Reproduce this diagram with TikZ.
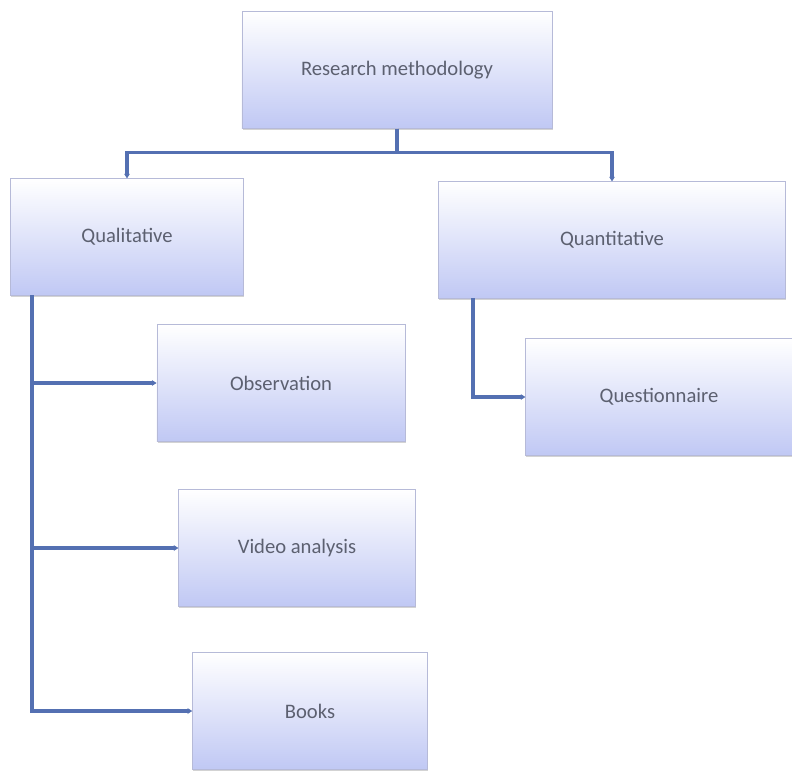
\documentclass[tikz,border=0pt]{standalone}
\usepackage{fontspec}
\setmainfont{Carlito}
\usetikzlibrary{arrows.meta,shadows}
\definecolor{linkblue}{RGB}{84,112,178}
\definecolor{boxedge}{RGB}{182,186,216}
\definecolor{boxlow}{RGB}{192,200,244}
\definecolor{boxtext}{RGB}{92,96,112}
\begin{document}
\begin{tikzpicture}[x=0.03cm, y=-0.03cm,
			font=\fontsize{17.6}{20}\selectfont, >={Stealth[length=4pt,width=5pt]},
			item/.style={rectangle, draw=boxedge, line width=0.5pt, top color=white, bottom color=boxlow,
				text=boxtext, minimum height=3.5cm, inner sep=0pt,
				drop shadow={shadow xshift=0.6pt, shadow yshift=-1.6pt, opacity=0.35}},
			link/.style={draw=linkblue, line width=3pt}]
		\useasboundingbox (0,0) rectangle (792,772);
		% top level and the two branches
		\node[item, minimum width=9.3cm]  (rm)    at (397,70)  {Research methodology};
		\node[item, minimum width=7cm]    (qual)  at (127,237) {Qualitative};
		\node[item, minimum width=10.4cm] (quan)  at (612,240) {Quantitative};
		% methods under each branch
		\node[item, minimum width=7.45cm] (obs)   at (281,383) {Observation};
		\node[item, minimum width=7.1cm]  (vid)   at (297,548) {Video analysis};
		\node[item, minimum width=7.05cm] (books) at (310,711) {Books};
		\node[item, minimum width=8cm]    (quest) at (659,397) {Questionnaire};
		% trunks hanging below the branch boxes
		\coordinate (qtrunk) at (32,295);
		\coordinate (ntrunk) at (473,298);
		\draw[link, ->] (rm.south) -- ++(0,24) -| (qual.north);
		\draw[link, ->] (rm.south) -- ++(0,24) -| (quan.north);
		\draw[link, ->] (qtrunk) |- (obs.west);
		\draw[link, ->] (qtrunk) |- (vid.west);
		\draw[link, ->] (qtrunk) |- (books.west);
		\draw[link, ->] (ntrunk) |- (quest.west);
	\end{tikzpicture}
\end{document}
